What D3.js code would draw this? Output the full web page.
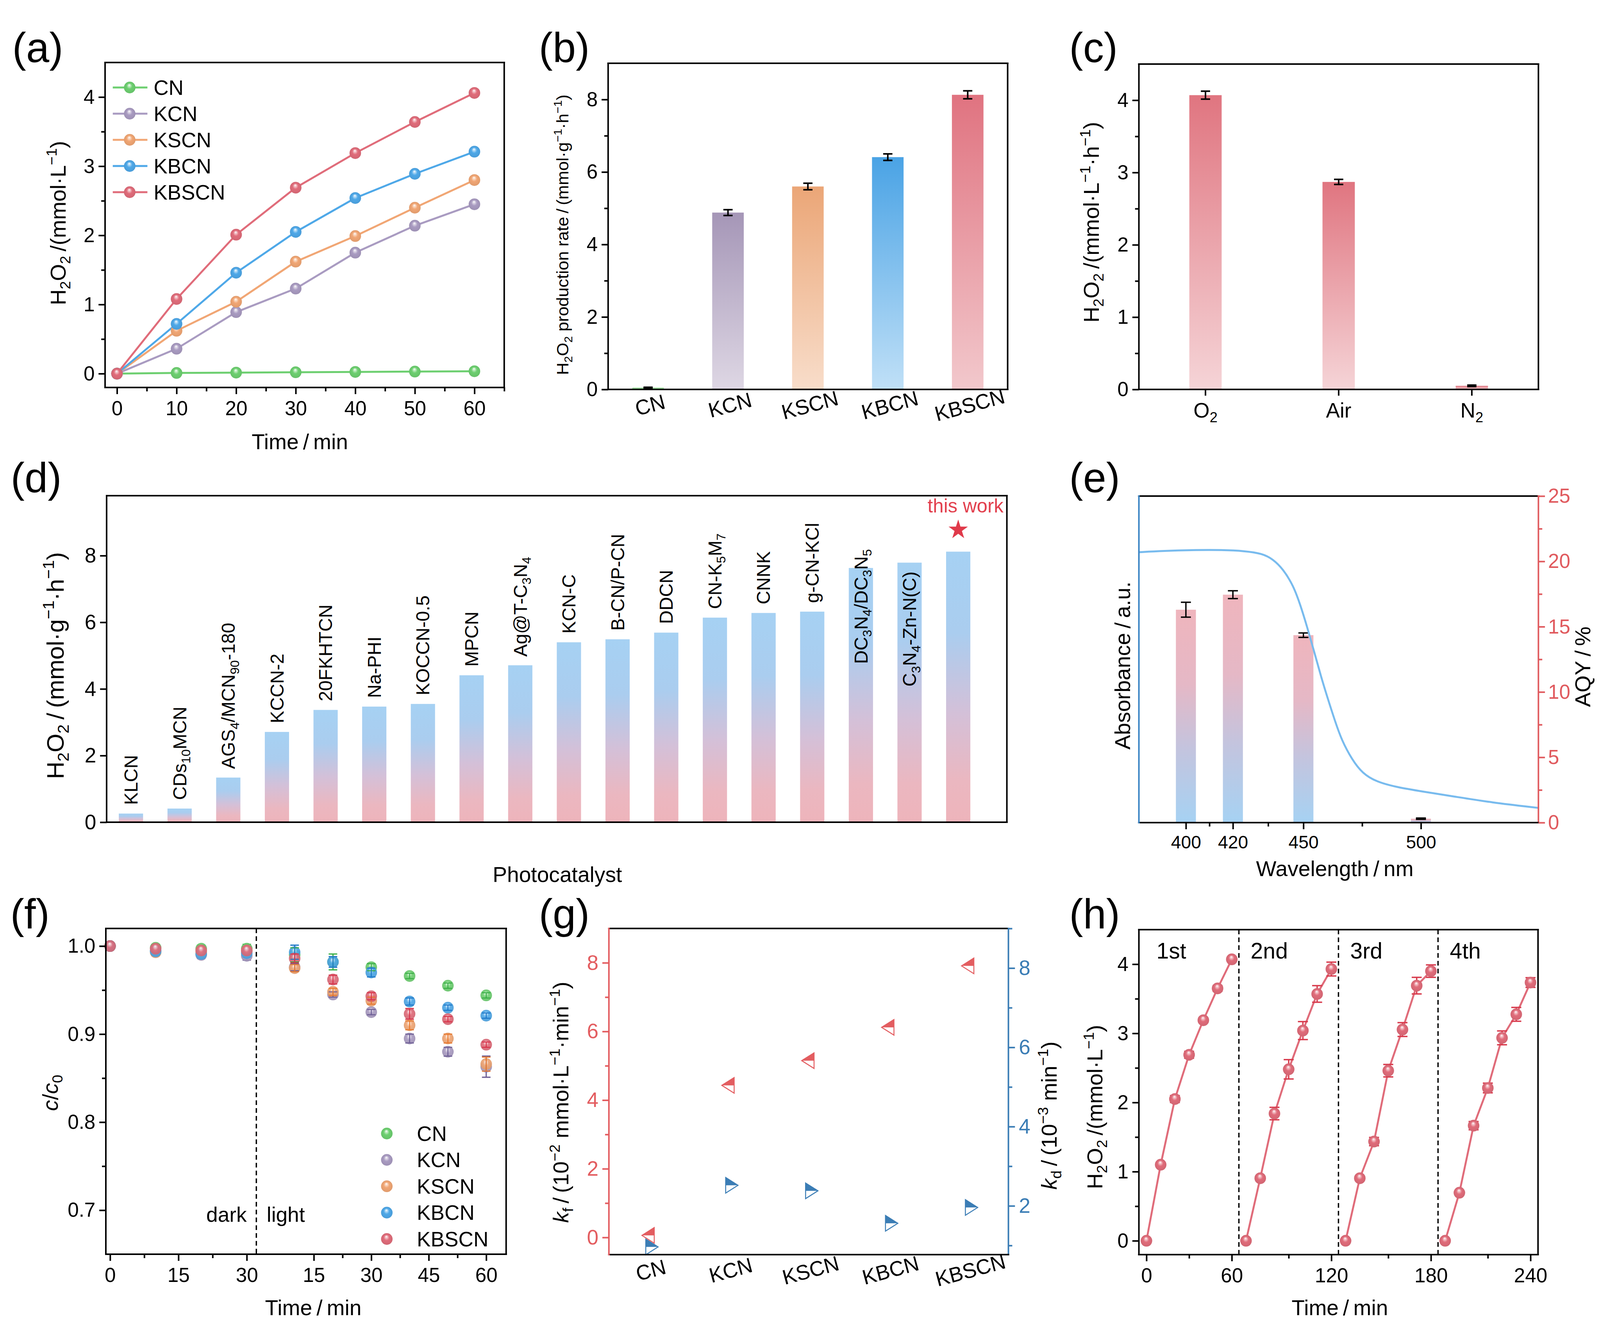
<!DOCTYPE html>
<html>
<head>
<meta charset="utf-8">
<script src="https://cdn.jsdelivr.net/npm/d3@7"></script>
<style>
  html, body { margin: 0; background: #fff; overflow: hidden; }
  svg { display: block; width: 100vw; height: 100vh; }
</style>
</head>
<body>
<svg id="fig" viewBox="0 0 4157 3405" preserveAspectRatio="none"></svg>
<script>
const FONT = "'Liberation Sans', Arial, Helvetica, sans-serif";

// ---------- data ----------
// (a) H2O2 vs time
const timeA = [0, 10, 20, 30, 40, 50, 60];
const samples = ["CN", "KCN", "KSCN", "KBCN", "KBSCN"];
const h2o2CN = [0, 0.01, 0.015, 0.02, 0.025, 0.03, 0.035];
const h2o2KCN = [0, 0.36, 0.89, 1.23, 1.75, 2.14, 2.45];
const h2o2KSCN = [0, 0.62, 1.04, 1.62, 1.99, 2.40, 2.80];
const h2o2KBCN = [0, 0.72, 1.46, 2.05, 2.54, 2.89, 3.21];
const h2o2KBSCN = [0, 1.08, 2.01, 2.69, 3.19, 3.64, 4.06];

// (b) production rate
const rateB = [0.05, 4.88, 5.60, 6.41, 8.13];
const rateErrB = [0.01, 0.08, 0.09, 0.09, 0.11];

// (c) atmosphere
const gasLabels = ["O_{2}", "Air", "N_{2}"];
const gasRate = [4.07, 2.87, 0.05];
const gasErr = [0.055, 0.035, 0.01];

// (d) comparison with literature
const catalysts = ["KLCN", "CDs_{10}MCN", "AGS_{4}/MCN_{90}-180", "KCCN-2", "20FKHTCN", "Na-PHI",
  "KOCCN-0.5", "MPCN", "Ag@T-C_{3}N_{4}", "KCN-C", "B-CN/P-CN", "DDCN", "CN-K_{5}M_{7}",
  "CNNK", "g-CN-KCl", "DC_{3}N_{4}/DC_{3}N_{5}", "C_{3}N_{4}-Zn-N(C)", "this work"];
const catRates = [0.26, 0.41, 1.34, 2.71, 3.37, 3.47, 3.55, 4.41, 4.71, 5.40, 5.49, 5.69,
  6.14, 6.28, 6.32, 7.63, 7.79, 8.12];

// (e) AQY and absorbance
const aqyWave = [400, 420, 450, 500];
const aqyVal = [16.3, 17.45, 14.35, 0.3];
const aqyErr = [0.57, 0.3, 0.17, 0.05];
const absWave = [380, 390, 405, 415, 425, 432.5, 437, 441.3, 445.7, 448.7, 451.6, 454.6, 457.5,
  460.4, 463.4, 466.3, 470.7, 475.1, 481, 490, 500, 515, 529.6, 550];
const absVal = [0.828, 0.832, 0.835, 0.835, 0.832, 0.824, 0.807, 0.777, 0.726, 0.667, 0.599, 0.523,
  0.447, 0.379, 0.312, 0.252, 0.193, 0.151, 0.125, 0.108, 0.096, 0.079, 0.062, 0.045];

// (f) H2O2 decomposition c/c0
const darkTime = [0, 10, 20, 30];
const lightTime = [10, 20, 30, 40, 50, 60];
const darkCN = [1.0, 0.998, 0.997, 0.997];
const darkKCN = [1.0, 0.995, 0.990, 0.989];
const darkKSCN = [1.0, 0.993, 0.993, 0.994];
const darkKBCN = [1.0, 0.994, 0.991, 0.992];
const darkKBSCN = [1.0, 0.997, 0.995, 0.995];
const darkErr = [0, 0.004, 0.004, 0.005];
const lightCN = [0.990, 0.982, 0.976, 0.966, 0.955, 0.944];
const lightKCN = [0.976, 0.945, 0.925, 0.895, 0.880, 0.863];
const lightKSCN = [0.975, 0.948, 0.938, 0.910, 0.895, 0.866];
const lightKBCN = [0.993, 0.982, 0.970, 0.937, 0.930, 0.921];
const lightKBSCN = [0.986, 0.962, 0.943, 0.923, 0.917, 0.888];
const lightErrCN = [0.008, 0.009, 0.004, 0.003, 0.003, 0.003];
const lightErrKCN = [0.004, 0.003, 0.003, 0.005, 0.005, 0.012];
const lightErrKSCN = [0.004, 0.004, 0.004, 0.005, 0.005, 0.008];
const lightErrKBCN = [0.008, 0.006, 0.005, 0.004, 0.003, 0.003];
const lightErrKBSCN = [0.005, 0.005, 0.004, 0.006, 0.003, 0.003];

// (g) rate constants
const kf = [0.06, 4.43, 5.15, 6.12, 7.91];
const kd = [0.965, 2.52, 2.38, 1.56, 1.96];

// (h) cycling
const cycleTime = [0, 10, 20, 30, 40, 50, 60];
const cycleNames = ["1st", "2nd", "3rd", "4th"];
const cycle1 = [0, 1.10, 2.05, 2.69, 3.19, 3.65, 4.07];
const cycle2 = [0, 0.905, 1.84, 2.48, 3.04, 3.57, 3.93];
const cycle3 = [0, 0.905, 1.435, 2.46, 3.055, 3.69, 3.90];
const cycle4 = [0, 0.695, 1.665, 2.21, 2.935, 3.275, 3.735];
const cycleErr1 = [0, 0.03, 0.05, 0.05, 0.03, 0.04, 0.02];
const cycleErr2 = [0, 0.03, 0.09, 0.14, 0.13, 0.12, 0.1];
const cycleErr3 = [0, 0.03, 0.06, 0.09, 0.1, 0.12, 0.09];
const cycleErr4 = [0, 0.03, 0.06, 0.07, 0.1, 0.1, 0.07];

// ---------- styles ----------
const colors = { CN: "#6dcf70", KCN: "#a99bc1", KSCN: "#f1a674", KBCN: "#4ea8e8", KBSCN: "#e06c7a" };
const errColors = { CN: "#3aae47", KCN: "#6d5e95", KSCN: "#e8792e", KBCN: "#1f78c8", KBSCN: "#d8344a" };
const RED = "#e35d60", BLUE = "#3b7db5";
const TS = "\u2009"; // thin space around the slash, as in the figure

const svg = d3.select("#fig");
const defs = svg.append("defs");

function linGrad(id, stops) {
  const lg = defs.append("linearGradient").attr("id", id)
    .attr("x1", 0).attr("y1", 0).attr("x2", 0).attr("y2", 1);
  stops.forEach(([o, c]) => lg.append("stop").attr("offset", o).attr("stop-color", c));
}
function sphGrad(id, c) {
  const rg = defs.append("radialGradient").attr("id", id)
    .attr("cx", "50%").attr("cy", "50%").attr("r", "50%").attr("fx", "46%").attr("fy", "28%");
  [[0, "#ffffff"], [0.18, d3.interpolateRgb("#ffffff", c)(0.4)], [0.48, c], [1, d3.color(c).darker(0.2)]]
    .forEach(([o, col]) => rg.append("stop").attr("offset", o).attr("stop-color", col));
}
samples.forEach(s => sphGrad("sph-" + s, colors[s]));

linGrad("gb-CN", [[0, "#8fdc90"], [1, "#bfeec0"]]);
linGrad("gb-KCN", [[0, "#a596b7"], [1, "#ded7e4"]]);
linGrad("gb-KSCN", [[0, "#eba677"], [1, "#f8ddca"]]);
linGrad("gb-KBCN", [[0, "#4aa3e5"], [1, "#c0e0f7"]]);
linGrad("gb-KBSCN", [[0, "#e07380"], [1, "#f2c8cc"]]);
linGrad("gc", [[0, "#e07580"], [1, "#f5d4d7"]]);
linGrad("gd", [[0, "#a6d1f3"], [0.3, "#aacdef"], [0.6, "#d4c0d8"], [0.85, "#ebb7c0"], [1, "#eeb4bb"]]);
linGrad("ge", [[0, "#efb5bd"], [0.35, "#e5b8c6"], [0.65, "#c4c4de"], [1, "#a6d2f3"]]);

// rich text: _{sub}  ^{sup}  *{italic}
function rich(textSel, str, fs) {
  const re = /([_^*])\{([^}]*)\}|([^_^*]+)/g;
  let m, shift = 0;
  while ((m = re.exec(str))) {
    const type = m[1] === "_" ? "sub" : m[1] === "^" ? "sup" : m[1] === "*" ? "it" : "n";
    const s = m[1] ? m[2] : m[3];
    const target = type === "sub" ? 0.22 * fs : type === "sup" ? -0.4 * fs : 0;
    const ts = textSel.append("tspan").attr("dy", target - shift).text(s);
    if (type === "sub" || type === "sup") ts.attr("font-size", fs * 0.68);
    if (type === "it") ts.attr("font-style", "italic");
    shift = target;
  }
  return textSel;
}
function txt(g, x, y, str, fs, opt = {}) {
  const t = g.append("text").attr("x", x).attr("y", y)
    .attr("font-family", FONT).attr("font-size", fs)
    .attr("text-anchor", opt.anchor || "start")
    .attr("fill", opt.color || "#000");
  if (opt.rotate) t.attr("x", null).attr("y", null)
    .attr("transform", `translate(${x},${y}) rotate(${opt.rotate})`);
  return rich(t, str, fs);
}
function drawAxis(g, gen, transform, color, fs) {
  const a = g.append("g").attr("transform", transform).call(gen);
  a.select(".domain").remove();
  a.selectAll(".tick line").attr("stroke", color).attr("stroke-width", 4);
  a.selectAll(".tick text").attr("fill", color).attr("font-size", fs).attr("font-family", FONT);
  return a;
}
function frame(g, x0, y0, x1, y1, cols = {}) {
  const sides = [
    [x0, y0, x1, y0, cols.top], [x1, y0, x1, y1, cols.right],
    [x0, y1, x1, y1, cols.bottom], [x0, y0, x0, y1, cols.left]];
  sides.forEach(([a, b, c, d, col]) => g.append("line")
    .attr("x1", a).attr("y1", b).attr("x2", c).attr("y2", d)
    .attr("stroke", col || "#000").attr("stroke-width", 4).attr("stroke-linecap", "square"));
}
function errBar(g, x, yHi, yLo, half, color, w = 3) {
  g.append("line").attr("x1", x).attr("x2", x).attr("y1", yHi).attr("y2", yLo)
    .attr("stroke", color).attr("stroke-width", w);
  [yHi, yLo].forEach(yy => g.append("line").attr("x1", x - half).attr("x2", x + half)
    .attr("y1", yy).attr("y2", yy).attr("stroke", color).attr("stroke-width", w));
}
function panelLabel(x, y, s) {
  svg.append("text").attr("x", x).attr("y", y).attr("font-family", FONT)
    .attr("font-size", 108).text(s);
}

// ---------- (a) ----------
{
  const g = svg.append("g");
  const L = 273, R = 1310, T = 160, B = 992;
  const x = d3.scaleLinear().domain([-2, 65]).range([L, R]);
  const y = d3.scaleLinear().domain([-0.2, 4.5]).range([B, T]);
  const series = { CN: h2o2CN, KCN: h2o2KCN, KSCN: h2o2KSCN, KBCN: h2o2KBCN, KBSCN: h2o2KBSCN };
  const line = d3.line().x((d, i) => x(timeA[i])).y(d => y(d));
  samples.forEach(s => {
    g.append("path").attr("d", line(series[s])).attr("fill", "none")
      .attr("stroke", colors[s]).attr("stroke-width", 5);
  });
  samples.forEach(s => {
    g.selectAll(null).data(series[s]).join("circle")
      .attr("cx", (d, i) => x(timeA[i])).attr("cy", d => y(d)).attr("r", 15)
      .attr("fill", `url(#sph-${s})`);
  });
  frame(g, L, T, R, B);
  drawAxis(g, d3.axisBottom(x).tickValues(d3.range(0, 61, 10)).tickSize(17).tickPadding(17), `translate(0,${B})`, "#000", 52);
  drawAxis(g, d3.axisBottom(x).tickValues(d3.range(5, 66, 10)).tickSize(10).tickFormat(""), `translate(0,${B})`, "#000", 52);
  drawAxis(g, d3.axisLeft(y).tickValues([0, 1, 2, 3, 4]).tickSize(17).tickPadding(10).tickFormat(d3.format("d")), `translate(${L},0)`, "#000", 52);
  drawAxis(g, d3.axisLeft(y).tickValues([0.5, 1.5, 2.5, 3.5]).tickSize(10).tickFormat(""), `translate(${L},0)`, "#000", 52);
  // legend
  samples.forEach((s, i) => {
    const yy = 224 + i * 67;
    g.append("line").attr("x1", 293).attr("x2", 383).attr("y1", yy).attr("y2", yy)
      .attr("stroke", colors[s]).attr("stroke-width", 5);
    g.append("circle").attr("cx", 337).attr("cy", yy).attr("r", 15).attr("fill", `url(#sph-${s})`);
    txt(g, 399, yy + 19, s, 54);
  });
  txt(g, 779, 1150, `Time${TS}/${TS}min`, 56, { anchor: "middle" });
  txt(g, 170, 571, `H_{2}O_{2}${TS}/(mmol·L^{−1})`, 56, { anchor: "middle", rotate: -90 });
  panelLabel(32, 159, "(a)");
}

// ---------- (b) ----------
{
  const g = svg.append("g");
  const L = 1580, R = 2618, T = 162, B = 997;
  const x = d3.scaleBand().domain(samples).range([L, R]).padding(0);
  const y = d3.scaleLinear().domain([0, 9]).range([B, T]);
  const bw = 82;
  g.selectAll(null).data(rateB).join("rect")
    .attr("x", (d, i) => x(samples[i]) + x.bandwidth() / 2 - bw / 2)
    .attr("y", d => y(d)).attr("width", bw).attr("height", d => B - y(d))
    .attr("fill", (d, i) => `url(#gb-${samples[i]})`);
  rateB.forEach((d, i) => {
    const cx = x(samples[i]) + x.bandwidth() / 2;
    errBar(g, cx, y(d + rateErrB[i]), y(d - rateErrB[i]), 12, "#000", 4);
  });
  frame(g, L, T, R, B);
  drawAxis(g, d3.axisLeft(y).tickValues([0, 2, 4, 6, 8]).tickSize(17).tickPadding(10).tickFormat(d3.format("d")), `translate(${L},0)`, "#000", 52);
  drawAxis(g, d3.axisLeft(y).tickValues([1, 3, 5, 7]).tickSize(10).tickFormat(""), `translate(${L},0)`, "#000", 52);
  samples.forEach(s => {
    txt(g, x(s) + x.bandwidth() / 2 + 10, B + 58, s, 54, { anchor: "middle", rotate: -15 })
      .attr("dy", "0.35em");
  });
  txt(g, 1477, 601, `H_{2}O_{2} production rate${TS}/${TS}(mmol·g^{−1}·h^{−1})`, 44, { anchor: "middle", rotate: -90 });
  panelLabel(1400, 159, "(b)");
}

// ---------- (c) ----------
{
  const g = svg.append("g");
  const L = 2959, R = 3997, T = 164, B = 997;
  const x = d3.scaleBand().domain(gasLabels).range([L, R]).padding(0);
  const y = d3.scaleLinear().domain([0, 4.5]).range([B, T]);
  const bw = 84;
  g.selectAll(null).data(gasRate).join("rect")
    .attr("x", (d, i) => x(gasLabels[i]) + x.bandwidth() / 2 - bw / 2)
    .attr("y", d => y(d)).attr("width", bw).attr("height", d => B - y(d))
    .attr("fill", "url(#gc)");
  gasRate.forEach((d, i) => {
    const cx = x(gasLabels[i]) + x.bandwidth() / 2;
    errBar(g, cx, y(d + gasErr[i]), y(d - gasErr[i]), 12, "#000", 4);
  });
  frame(g, L, T, R, B);
  drawAxis(g, d3.axisLeft(y).tickValues([0, 1, 2, 3, 4]).tickSize(17).tickPadding(10).tickFormat(d3.format("d")), `translate(${L},0)`, "#000", 52);
  drawAxis(g, d3.axisLeft(y).tickValues([0.5, 1.5, 2.5, 3.5]).tickSize(10).tickFormat(""), `translate(${L},0)`, "#000", 52);
  drawAxis(g, d3.axisBottom(x).tickSize(16).tickFormat(""), `translate(0,${B})`, "#000", 52);
  gasLabels.forEach(s => txt(g, x(s) + x.bandwidth() / 2, B + 72, s, 54, { anchor: "middle" }));
  txt(g, 2855, 569, `H_{2}O_{2}${TS}/(mmol·L^{−1}·h^{−1})`, 56, { anchor: "middle", rotate: -90 });
  panelLabel(2778, 159, "(c)");
}

// ---------- (d) ----------
{
  const g = svg.append("g");
  const L = 277, R = 2616, T = 1269, B = 2105;
  const x = d3.scaleLinear().domain([-0.5, 18]).range([L, R]);
  const y = d3.scaleLinear().domain([0, 9.8]).range([B, T]);
  const bw = 63;
  g.selectAll(null).data(catRates).join("rect")
    .attr("x", (d, i) => x(i) - bw / 2).attr("y", d => y(d))
    .attr("width", bw).attr("height", d => B - y(d)).attr("fill", "url(#gd)");
  // labels that would run past the top are set inside their bars
  const insideBase = { 15: 4.75, 16: 4.07 };
  catRates.forEach((d, i) => {
    if (i === catRates.length - 1) return;
    const base = insideBase[i] !== undefined ? y(insideBase[i]) : y(d) - 22;
    txt(g, x(i) + 17, base, catalysts[i], 48, { rotate: -90 });
  });
  const last = catRates.length - 1;
  txt(g, x(last) + 19, y(catRates[last]) - 100, catalysts[last], 50, { anchor: "middle", color: "#e2404e" });
  g.append("path").attr("d", d3.symbol().type(d3.symbolStar).size(780)())
    .attr("transform", `translate(${x(last)},${y(catRates[last]) - 56})`).attr("fill", "#e03a4a");
  frame(g, L, T, R, B);
  drawAxis(g, d3.axisLeft(y).tickValues([0, 2, 4, 6, 8]).tickSize(17).tickPadding(10).tickFormat(d3.format("d")), `translate(${L},0)`, "#000", 54);
  txt(g, 1448, 2258, "Photocatalyst", 56, { anchor: "middle" });
  txt(g, 165, 1704, `H_{2}O_{2}${TS}/${TS}(mmol·g^{−1}·h^{−1})`, 62, { anchor: "middle", rotate: -90 });
  panelLabel(28, 1260, "(d)");
}

// ---------- (e) ----------
{
  const g = svg.append("g");
  const L = 2959, R = 3997, T = 1270, B = 2106;
  const x = d3.scaleLinear().domain([380, 550]).range([L, R]);
  const yq = d3.scaleLinear().domain([0, 25]).range([B, T]);
  const ya = d3.scaleLinear().domain([0, 1]).range([B, T]);
  const bw = 52;
  g.selectAll(null).data(aqyVal).join("rect")
    .attr("x", (d, i) => x(aqyWave[i]) - bw / 2).attr("y", d => yq(d))
    .attr("width", bw).attr("height", d => B - yq(d)).attr("fill", "url(#ge)");
  aqyVal.forEach((d, i) => errBar(g, x(aqyWave[i]), yq(d + aqyErr[i]), yq(d - aqyErr[i]), 13, "#000", 3.5));
  const line = d3.line().x((d, i) => x(absWave[i])).y(d => ya(d)).curve(d3.curveBasis);
  g.append("path").attr("d", line(absVal)).attr("fill", "none")
    .attr("stroke", "#78bbee").attr("stroke-width", 5);
  frame(g, L, T, R, B, { left: "#3a84c4", right: "#e05a5e" });
  drawAxis(g, d3.axisBottom(x).tickValues(aqyWave).tickSize(17).tickPadding(16).tickFormat(d3.format("d")), `translate(0,${B})`, "#000", 47);
  drawAxis(g, d3.axisBottom(x).tickValues([410, 435, 475]).tickSize(10).tickFormat(""), `translate(0,${B})`, "#000", 47);
  drawAxis(g, d3.axisRight(yq).tickValues([0, 5, 10, 15, 20, 25]).tickSize(17).tickPadding(8).tickFormat(d3.format("d")), `translate(${R},0)`, "#e05a5e", 52);
  drawAxis(g, d3.axisRight(yq).tickValues([2.5, 7.5, 12.5, 17.5, 22.5]).tickSize(10).tickFormat(""), `translate(${R},0)`, "#e05a5e", 52);
  txt(g, 3468, 2243, `Wavelength${TS}/${TS}nm`, 56, { anchor: "middle" });
  txt(g, 2936, 1704, `Absorbance${TS}/${TS}a.u.`, 56, { anchor: "middle", rotate: -90 });
  txt(g, 4132, 1707, `AQY${TS}/${TS}%`, 56, { anchor: "middle", rotate: -90 });
  panelLabel(2778, 1260, "(e)");
}

// ---------- (f) ----------
{
  const g = svg.append("g");
  const L = 275, R = 1315, T = 2377, B = 3211, SPLIT = 666;
  const xd = d3.scaleLinear().domain([-0.93, 32.1]).range([L, SPLIT]);
  const xl = d3.scaleLinear().domain([0, 65.2]).range([SPLIT, R]);
  const y = d3.scaleLinear().domain([0.65, 1.02]).range([B, T]);
  const dark = { CN: darkCN, KCN: darkKCN, KSCN: darkKSCN, KBCN: darkKBCN, KBSCN: darkKBSCN };
  const light = { CN: lightCN, KCN: lightKCN, KSCN: lightKSCN, KBCN: lightKBCN, KBSCN: lightKBSCN };
  const lightErr = { CN: lightErrCN, KCN: lightErrKCN, KSCN: lightErrKSCN, KBCN: lightErrKBCN, KBSCN: lightErrKBSCN };
  g.append("line").attr("x1", SPLIT).attr("x2", SPLIT).attr("y1", T).attr("y2", B)
    .attr("stroke", "#000").attr("stroke-width", 3.5).attr("stroke-dasharray", "12,8");
  samples.forEach(s => {
    dark[s].forEach((d, i) => errBar(g, xd(darkTime[i]), y(d + darkErr[i]), y(d - darkErr[i]), 11, errColors[s], 3));
    light[s].forEach((d, i) => errBar(g, xl(lightTime[i]), y(d + lightErr[s][i]), y(d - lightErr[s][i]), 11, errColors[s], 3));
  });
  samples.forEach(s => {
    g.selectAll(null).data(dark[s]).join("circle")
      .attr("cx", (d, i) => xd(darkTime[i])).attr("cy", d => y(d)).attr("r", 15)
      .attr("fill", `url(#sph-${s})`).attr("opacity", 0.92);
    g.selectAll(null).data(light[s]).join("circle")
      .attr("cx", (d, i) => xl(lightTime[i])).attr("cy", d => y(d)).attr("r", 15)
      .attr("fill", `url(#sph-${s})`).attr("opacity", 0.92);
  });
  // error bar ticks over the markers
  samples.forEach(s => {
    light[s].forEach((d, i) => errBar(g, xl(lightTime[i]), y(d + lightErr[s][i]), y(d - lightErr[s][i]), 11, errColors[s], 2.5));
  });
  frame(g, L, T, R, B);
  drawAxis(g, d3.axisBottom(xd).tickValues([0, 15, 30]).tickSize(17).tickPadding(17), `translate(0,${B})`, "#000", 52);
  drawAxis(g, d3.axisBottom(xd).tickValues([7.5, 22.5]).tickSize(10).tickFormat(""), `translate(0,${B})`, "#000", 52);
  drawAxis(g, d3.axisBottom(xl).tickValues([15, 30, 45, 60]).tickSize(17).tickPadding(17), `translate(0,${B})`, "#000", 52);
  drawAxis(g, d3.axisBottom(xl).tickValues([22.5, 37.5, 52.5]).tickSize(10).tickFormat(""), `translate(0,${B})`, "#000", 52);
  drawAxis(g, d3.axisLeft(y).tickValues([0.7, 0.8, 0.9, 1.0]).tickSize(17).tickPadding(10).tickFormat(d3.format(".1f")), `translate(${L},0)`, "#000", 52);
  drawAxis(g, d3.axisLeft(y).tickValues([0.75, 0.85, 0.95]).tickSize(10).tickFormat(""), `translate(${L},0)`, "#000", 52);
  txt(g, 641, 3128, "dark", 54, { anchor: "end" });
  txt(g, 693, 3128, "light", 54);
  samples.forEach((s, i) => {
    const yy = 2902 + i * 67.5;
    g.append("circle").attr("cx", 1005).attr("cy", yy).attr("r", 15).attr("fill", `url(#sph-${s})`);
    txt(g, 1083, yy + 19, s, 54);
  });
  txt(g, 814, 3367, `Time${TS}/${TS}min`, 56, { anchor: "middle" });
  txt(g, 150, 2798, "*{c}/*{c}_{0}", 56, { anchor: "middle", rotate: -90 });
  panelLabel(27, 2377, "(f)");
}

// ---------- (g) ----------
{
  const g = svg.append("g");
  const L = 1582, R = 2620, T = 2377, B = 3212;
  const x = d3.scaleBand().domain(samples).range([L, R]).padding(0);
  const yl = d3.scaleLinear().domain([-0.5, 9]).range([B, T]);
  const yr = d3.scaleLinear().domain([0.77, 9]).range([B, T]);
  const hw = 16, hh = 20;
  kf.forEach((d, i) => {
    const cx = x(samples[i]) + x.bandwidth() / 2 - 2, cy = yl(d);
    g.append("path").attr("d", `M${cx - hw},${cy}L${cx + hw},${cy - hh}L${cx + hw},${cy + hh}Z`)
      .attr("fill", "#fff").attr("stroke", RED).attr("stroke-width", 2.5);
    g.append("path").attr("d", `M${cx - hw},${cy}L${cx + hw},${cy - hh}L${cx + hw},${cy}Z`)
      .attr("fill", RED);
  });
  kd.forEach((d, i) => {
    const cx = x(samples[i]) + x.bandwidth() / 2 + 8, cy = yr(d);
    g.append("path").attr("d", `M${cx + hw},${cy}L${cx - hw},${cy - hh}L${cx - hw},${cy + hh}Z`)
      .attr("fill", "#fff").attr("stroke", BLUE).attr("stroke-width", 2.5);
    g.append("path").attr("d", `M${cx + hw},${cy}L${cx - hw},${cy - hh}L${cx - hw},${cy}Z`)
      .attr("fill", BLUE);
  });
  frame(g, L, T, R, B, { left: RED, right: BLUE });
  drawAxis(g, d3.axisLeft(yl).tickValues([0, 2, 4, 6, 8]).tickSize(17).tickPadding(10).tickFormat(d3.format("d")), `translate(${L},0)`, RED, 54);
  drawAxis(g, d3.axisLeft(yl).tickValues([1, 3, 5, 7]).tickSize(10).tickFormat(""), `translate(${L},0)`, RED, 54);
  drawAxis(g, d3.axisRight(yr).tickValues([2, 4, 6, 8]).tickSize(17).tickPadding(10).tickFormat(d3.format("d")), `translate(${R},0)`, BLUE, 54);
  drawAxis(g, d3.axisRight(yr).tickValues([1, 3, 5, 7, 9]).tickSize(10).tickFormat(""), `translate(${R},0)`, BLUE, 54);
  samples.forEach(s => {
    txt(g, x(s) + x.bandwidth() / 2 + 10, B + 58, s, 54, { anchor: "middle", rotate: -15 })
      .attr("dy", "0.35em");
  });
  txt(g, 1477, 2822, `*{k}_{f}${TS}/${TS}(10^{−2} mmol·L^{−1}·min^{−1})`, 56, { anchor: "middle", rotate: -90 });
  txt(g, 2745, 2856, `*{k}_{d}${TS}/${TS}(10^{−3} min^{−1})`, 56, { anchor: "middle", rotate: -90 });
  panelLabel(1400, 2377, "(g)");
}

// ---------- (h) ----------
{
  const g = svg.append("g");
  const L = 2959, R = 3996, T = 2380, B = 3212;
  const GAP = 70; // each cycle occupies 60 min plus a 10 min break on the axis
  const x = d3.scaleLinear().domain([-5.3, 275.3]).range([L, R]);
  const y = d3.scaleLinear().domain([-0.2, 4.5]).range([B, T]);
  const cycles = [cycle1, cycle2, cycle3, cycle4];
  const errs = [cycleErr1, cycleErr2, cycleErr3, cycleErr4];
  [0, 1, 2].forEach(c => {
    const xx = x(c * GAP + 65);
    g.append("line").attr("x1", xx).attr("x2", xx).attr("y1", T).attr("y2", B)
      .attr("stroke", "#000").attr("stroke-width", 3.5).attr("stroke-dasharray", "12,8");
  });
  const line = d3.line().x(d => x(d[0])).y(d => y(d[1]));
  cycles.forEach((vals, c) => {
    const pts = vals.map((v, i) => [c * GAP + cycleTime[i], v]);
    g.append("path").attr("d", line(pts)).attr("fill", "none")
      .attr("stroke", colors.KBSCN).attr("stroke-width", 5);
    pts.forEach((p, i) => {
      if (errs[c][i] > 0) errBar(g, x(p[0]), y(p[1] + errs[c][i]), y(p[1] - errs[c][i]), 13, "#d83a4c", 3.5);
    });
    g.selectAll(null).data(pts).join("circle")
      .attr("cx", d => x(d[0])).attr("cy", d => y(d[1])).attr("r", 15)
      .attr("fill", "url(#sph-KBSCN)");
    txt(g, x(c * GAP) + 26 - (c === 0 ? 0 : 14), 2454, cycleNames[c], 58);
  });
  frame(g, L, T, R, B);
  const majorT = [0, 60, 130, 200, 270];
  const majorLab = ["0", "60", "120", "180", "240"];
  drawAxis(g, d3.axisBottom(x).tickValues(majorT).tickSize(17).tickPadding(17).tickFormat((d, i) => majorLab[i]), `translate(0,${B})`, "#000", 52);
  drawAxis(g, d3.axisBottom(x).tickValues([30, 100, 170, 240]).tickSize(10).tickFormat(""), `translate(0,${B})`, "#000", 52);
  drawAxis(g, d3.axisLeft(y).tickValues([0, 1, 2, 3, 4]).tickSize(17).tickPadding(10).tickFormat(d3.format("d")), `translate(${L},0)`, "#000", 52);
  drawAxis(g, d3.axisLeft(y).tickValues([0.5, 1.5, 2.5, 3.5]).tickSize(10).tickFormat(""), `translate(${L},0)`, "#000", 52);
  txt(g, 3481, 3367, `Time${TS}/${TS}min`, 56, { anchor: "middle" });
  txt(g, 2864, 2834, `H_{2}O_{2}${TS}/(mmol·L^{−1})`, 56, { anchor: "middle", rotate: -90 });
  panelLabel(2778, 2377, "(h)");
}
</script>
</body>
</html>
